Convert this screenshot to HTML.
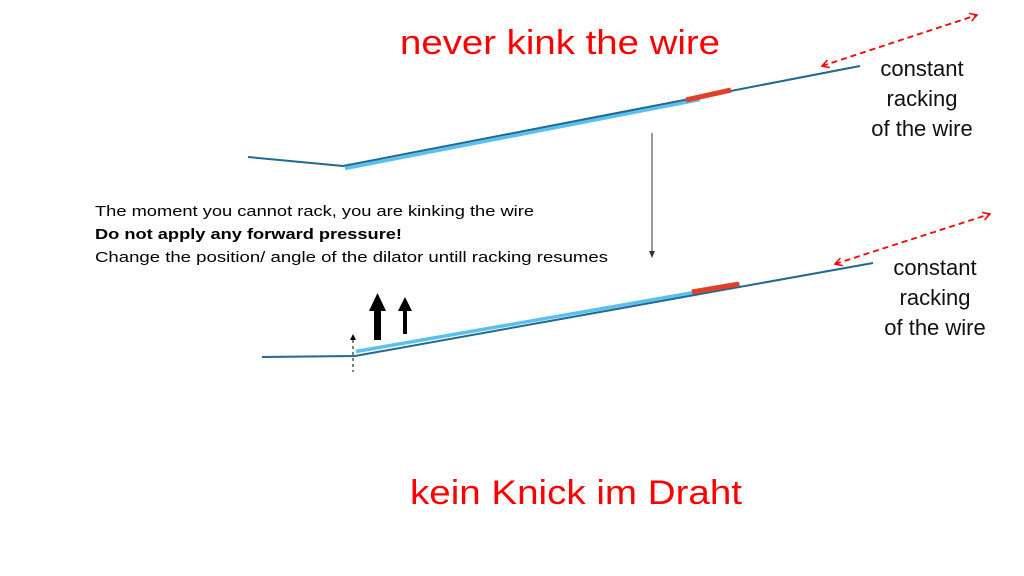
<!DOCTYPE html>
<html><head><style>html,body{margin:0;padding:0;background:#fff;}svg{display:block}</style></head>
<body>
<svg width="1024" height="576" viewBox="0 0 1024 576" xmlns="http://www.w3.org/2000/svg" font-family="Liberation Sans, sans-serif">
<defs>
<marker id="rh" markerWidth="10" markerHeight="10" refX="8" refY="5" orient="auto" markerUnits="userSpaceOnUse"><path d="M1,1 L8,5 L1,9" fill="none" stroke="#f00" stroke-width="1.5"/></marker>
<marker id="rt" markerWidth="10" markerHeight="10" refX="2" refY="5" orient="auto" markerUnits="userSpaceOnUse"><path d="M9,1 L2,5 L9,9" fill="none" stroke="#f00" stroke-width="1.5"/></marker>
</defs>
<text x="560" y="54" font-size="34" fill="#f00" text-anchor="middle" textLength="320" lengthAdjust="spacingAndGlyphs">never kink the wire</text>
<text x="576" y="504" font-size="34" fill="#f00" text-anchor="middle" textLength="332" lengthAdjust="spacingAndGlyphs">kein Knick im Draht</text>

<!-- top wire -->
<line x1="345" y1="168.5" x2="700" y2="99.5" stroke="#5bc0f0" stroke-width="3.5"/>
<polyline points="248,157 343,166 860,66" fill="none" stroke="#1f6a8e" stroke-width="2"/>
<line x1="686" y1="100" x2="731" y2="90" stroke="#e0402a" stroke-width="5"/>
<line x1="822" y1="66" x2="977" y2="15" stroke="#f00" stroke-width="1.8" stroke-dasharray="6,4" marker-start="url(#rt)" marker-end="url(#rh)"/>
<text font-size="22" fill="#111" text-anchor="middle"><tspan x="922" y="76">constant</tspan><tspan x="922" y="106">racking</tspan><tspan x="922" y="136">of the wire</tspan></text>

<!-- vertical thin arrow -->
<line x1="652" y1="133" x2="652" y2="252" stroke="#333" stroke-width="1"/>
<path d="M649,251 L652,258 L655,251 Z" fill="#333"/>

<!-- text -->
<text x="95" y="216" font-size="15" fill="#000" textLength="439" lengthAdjust="spacingAndGlyphs">The moment you cannot rack, you are kinking the wire</text>
<text x="95" y="239" font-size="15" font-weight="bold" fill="#000" textLength="307" lengthAdjust="spacingAndGlyphs">Do not apply any forward pressure!</text>
<text x="95" y="262" font-size="15" fill="#000" textLength="513" lengthAdjust="spacingAndGlyphs">Change the position/ angle of the dilator untill racking resumes</text>

<!-- bottom wire -->
<line x1="356" y1="351.5" x2="740" y2="284.5" stroke="#5bc0f0" stroke-width="3.5"/>
<polyline points="262,357 355,356 873,263" fill="none" stroke="#1f6a8e" stroke-width="2"/>
<line x1="692" y1="292" x2="739" y2="284" stroke="#e0402a" stroke-width="5"/>
<line x1="835" y1="264" x2="990" y2="214" stroke="#f00" stroke-width="1.8" stroke-dasharray="6,4" marker-start="url(#rt)" marker-end="url(#rh)"/>
<text font-size="22" fill="#111" text-anchor="middle"><tspan x="935" y="275">constant</tspan><tspan x="935" y="305">racking</tspan><tspan x="935" y="335">of the wire</tspan></text>

<!-- arrows -->
<rect x="374" y="310" width="7" height="30" fill="#000"/>
<path d="M369,311 L377.5,293 L386,311 Z" fill="#000"/>
<rect x="403" y="310" width="4" height="24" fill="#000"/>
<path d="M398,311 L405,297 L412,311 Z" fill="#000"/>
<line x1="353" y1="340" x2="353" y2="372" stroke="#000" stroke-width="1" stroke-dasharray="3,3"/>
<path d="M350,340 L353,334 L356,340 Z" fill="#000"/>
</svg>
</body></html>
